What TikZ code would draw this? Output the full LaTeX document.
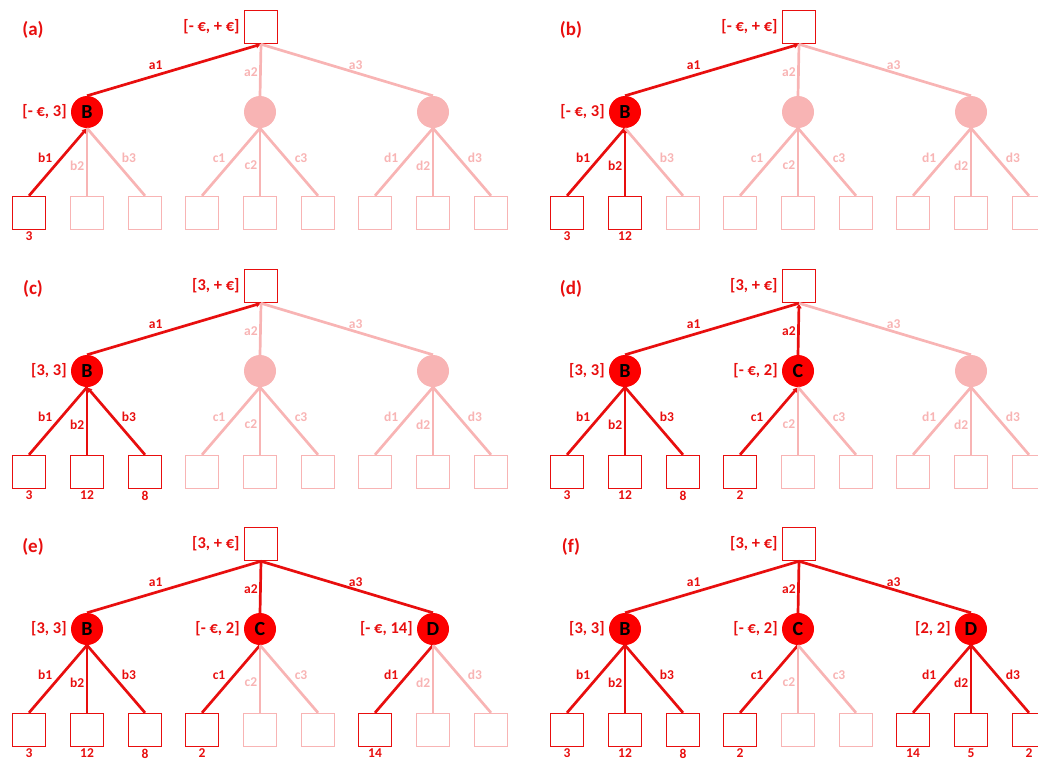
\documentclass[tikz,border=0pt]{standalone}
\usepackage{fontspec}
\setmainfont{Carlito}
\usetikzlibrary{positioning,arrows.meta}
\definecolor{hot}{RGB}{232,14,14}
\definecolor{blood}{RGB}{252,0,0}
\definecolor{pale}{RGB}{248,180,180}
\tikzset{
  sq/.style={draw=#1,fill=white,line width=1.5pt,minimum size=33pt,inner sep=0pt},
  ball/.style={circle,fill=#1,minimum size=32pt,inner sep=0pt,font=\bfseries\fontsize{20}{20}\selectfont},
  hotlink/.style={color=hot,line width=2.7pt},
  palelink/.style={color=pale,line width=2.7pt},
  tiplink/.style={hotlink,arrows={Latex[length=5pt,width=6pt]-}},
  elab/.style={font=\bfseries\fontsize{13.5}{14}\selectfont,inner sep=1.5pt},
  vlab/.style={font=\bfseries\fontsize{16.5}{17}\selectfont,text=hot,inner sep=1pt},
  paneltag/.style={font=\bfseries\fontsize{19}{19}\selectfont,text=hot}
}
\begin{document}
\begin{tikzpicture}[x=1pt,y=-1pt,font=\bfseries,label distance=3pt]
  \clip (0,0) rectangle (1038,763);

  % (a)
  \begin{scope}
    \node[paneltag] at (33,30) {(a)};
    \node[sq=hot] (aR) at (261,27) {};
    \node[vlab,left=3pt of aR] {[- €, + €]};
    \foreach \nm/\xx/\col/\ltr/\val in {B/87/blood/B/{[- €, 3]},C/260/pale//{},D/433/pale//{}}
      \node[ball=\col,label={[vlab]left:\val}] (a\nm) at (\xx,112) {\ltr};
    \foreach \xx/\col/\val [count=\k] in {29/hot/3,87/pale/,145/pale/,202/pale/,260/pale/,318/pale/,375/pale/,433/pale/,491/pale/}
      \node[sq=\col,label={[elab,text=hot,label distance=0pt]below:\val}] (a\k) at (\xx,213) {};
    \foreach \nm/\edge/\sty/\where in {B/a1/tiplink/{above left},C/a2/palelink/left,D/a3/palelink/above}
      \draw[\sty] (aR.south) -- node[elab,\where,pos=0.55] {\edge} (a\nm.north);
    \foreach \nm/\k/\edge/\sty/\where in {B/1/b1/tiplink/{above left},B/2/b2/palelink/left,B/3/b3/palelink/{above right},
        C/4/c1/palelink/{above left},C/5/c2/palelink/left,C/6/c3/palelink/{above right},
        D/7/d1/palelink/{above left},D/8/d2/palelink/left,D/9/d3/palelink/{above right}}
      \draw[\sty] (a\nm.south) -- node[elab,\where,pos=0.55] {\edge} (a\k.north);
  \end{scope}

  % (b)
  \begin{scope}[shift={(538,0)}]
    \node[paneltag] at (33,30) {(b)};
    \node[sq=hot] (bR) at (261,27) {};
    \node[vlab,left=3pt of bR] {[- €, + €]};
    \foreach \nm/\xx/\col/\ltr/\val in {B/87/blood/B/{[- €, 3]},C/260/pale//{},D/433/pale//{}}
      \node[ball=\col,label={[vlab]left:\val}] (b\nm) at (\xx,112) {\ltr};
    \foreach \xx/\col/\val [count=\k] in {29/hot/3,87/hot/12,145/pale/,202/pale/,260/pale/,318/pale/,375/pale/,433/pale/,491/pale/}
      \node[sq=\col,label={[elab,text=hot,label distance=0pt]below:\val}] (b\k) at (\xx,213) {};
    \foreach \nm/\edge/\sty/\where in {B/a1/tiplink/{above left},C/a2/palelink/left,D/a3/palelink/above}
      \draw[\sty] (bR.south) -- node[elab,\where,pos=0.55] {\edge} (b\nm.north);
    \foreach \nm/\k/\edge/\sty/\where in {B/1/b1/hotlink/{above left},B/2/b2/tiplink/left,B/3/b3/palelink/{above right},
        C/4/c1/palelink/{above left},C/5/c2/palelink/left,C/6/c3/palelink/{above right},
        D/7/d1/palelink/{above left},D/8/d2/palelink/left,D/9/d3/palelink/{above right}}
      \draw[\sty] (b\nm.south) -- node[elab,\where,pos=0.55] {\edge} (b\k.north);
  \end{scope}

  % (c)
  \begin{scope}[shift={(0,259)}]
    \node[paneltag] at (33,30) {(c)};
    \node[sq=hot] (cR) at (261,27) {};
    \node[vlab,left=3pt of cR] {[3, + €]};
    \foreach \nm/\xx/\col/\ltr/\val in {B/87/blood/B/{[3, 3]},C/260/pale//{},D/433/pale//{}}
      \node[ball=\col,label={[vlab]left:\val}] (c\nm) at (\xx,112) {\ltr};
    \foreach \xx/\col/\val [count=\k] in {29/hot/3,87/hot/12,145/hot/8,202/pale/,260/pale/,318/pale/,375/pale/,433/pale/,491/pale/}
      \node[sq=\col,label={[elab,text=hot,label distance=0pt]below:\val}] (c\k) at (\xx,213) {};
    \foreach \nm/\edge/\sty/\where in {B/a1/tiplink/{above left},C/a2/palelink/left,D/a3/palelink/above}
      \draw[\sty] (cR.south) -- node[elab,\where,pos=0.55] {\edge} (c\nm.north);
    \foreach \nm/\k/\edge/\sty/\where in {B/1/b1/hotlink/{above left},B/2/b2/hotlink/left,B/3/b3/tiplink/{above right},
        C/4/c1/palelink/{above left},C/5/c2/palelink/left,C/6/c3/palelink/{above right},
        D/7/d1/palelink/{above left},D/8/d2/palelink/left,D/9/d3/palelink/{above right}}
      \draw[\sty] (c\nm.south) -- node[elab,\where,pos=0.55] {\edge} (c\k.north);
  \end{scope}

  % (d)
  \begin{scope}[shift={(538,259)}]
    \node[paneltag] at (33,30) {(d)};
    \node[sq=hot] (dR) at (261,27) {};
    \node[vlab,left=3pt of dR] {[3, + €]};
    \foreach \nm/\xx/\col/\ltr/\val in {B/87/blood/B/{[3, 3]},C/260/blood/C/{[- €, 2]},D/433/pale//{}}
      \node[ball=\col,label={[vlab]left:\val}] (d\nm) at (\xx,112) {\ltr};
    \foreach \xx/\col/\val [count=\k] in {29/hot/3,87/hot/12,145/hot/8,202/hot/2,260/pale/,318/pale/,375/pale/,433/pale/,491/pale/}
      \node[sq=\col,label={[elab,text=hot,label distance=0pt]below:\val}] (d\k) at (\xx,213) {};
    \foreach \nm/\edge/\sty/\where in {B/a1/hotlink/{above left},C/a2/tiplink/left,D/a3/palelink/above}
      \draw[\sty] (dR.south) -- node[elab,\where,pos=0.55] {\edge} (d\nm.north);
    \foreach \nm/\k/\edge/\sty/\where in {B/1/b1/hotlink/{above left},B/2/b2/hotlink/left,B/3/b3/hotlink/{above right},
        C/4/c1/tiplink/{above left},C/5/c2/palelink/left,C/6/c3/palelink/{above right},
        D/7/d1/palelink/{above left},D/8/d2/palelink/left,D/9/d3/palelink/{above right}}
      \draw[\sty] (d\nm.south) -- node[elab,\where,pos=0.55] {\edge} (d\k.north);
  \end{scope}

  % (e)
  \begin{scope}[shift={(0,517)}]
    \node[paneltag] at (33,30) {(e)};
    \node[sq=hot] (eR) at (261,27) {};
    \node[vlab,left=3pt of eR] {[3, + €]};
    \foreach \nm/\xx/\col/\ltr/\val in {B/87/blood/B/{[3, 3]},C/260/blood/C/{[- €, 2]},D/433/blood/D/{[- €, 14]}}
      \node[ball=\col,label={[vlab]left:\val}] (e\nm) at (\xx,112) {\ltr};
    \foreach \xx/\col/\val [count=\k] in {29/hot/3,87/hot/12,145/hot/8,202/hot/2,260/pale/,318/pale/,375/hot/14,433/pale/,491/pale/}
      \node[sq=\col,label={[elab,text=hot,label distance=0pt]below:\val}] (e\k) at (\xx,213) {};
    \foreach \nm/\edge/\sty/\where in {B/a1/hotlink/{above left},C/a2/hotlink/left,D/a3/hotlink/above}
      \draw[\sty] (eR.south) -- node[elab,\where,pos=0.55] {\edge} (e\nm.north);
    \foreach \nm/\k/\edge/\sty/\where in {B/1/b1/hotlink/{above left},B/2/b2/hotlink/left,B/3/b3/hotlink/{above right},
        C/4/c1/hotlink/{above left},C/5/c2/palelink/left,C/6/c3/palelink/{above right},
        D/7/d1/hotlink/{above left},D/8/d2/palelink/left,D/9/d3/palelink/{above right}}
      \draw[\sty] (e\nm.south) -- node[elab,\where,pos=0.55] {\edge} (e\k.north);
  \end{scope}

  % (f)
  \begin{scope}[shift={(538,517)}]
    \node[paneltag] at (33,30) {(f)};
    \node[sq=hot] (fR) at (261,27) {};
    \node[vlab,left=3pt of fR] {[3, + €]};
    \foreach \nm/\xx/\col/\ltr/\val in {B/87/blood/B/{[3, 3]},C/260/blood/C/{[- €, 2]},D/433/blood/D/{[2, 2]}}
      \node[ball=\col,label={[vlab]left:\val}] (f\nm) at (\xx,112) {\ltr};
    \foreach \xx/\col/\val [count=\k] in {29/hot/3,87/hot/12,145/hot/8,202/hot/2,260/pale/,318/pale/,375/hot/14,433/hot/5,491/hot/2}
      \node[sq=\col,label={[elab,text=hot,label distance=0pt]below:\val}] (f\k) at (\xx,213) {};
    \foreach \nm/\edge/\sty/\where in {B/a1/hotlink/{above left},C/a2/hotlink/left,D/a3/hotlink/above}
      \draw[\sty] (fR.south) -- node[elab,\where,pos=0.55] {\edge} (f\nm.north);
    \foreach \nm/\k/\edge/\sty/\where in {B/1/b1/hotlink/{above left},B/2/b2/hotlink/left,B/3/b3/hotlink/{above right},
        C/4/c1/hotlink/{above left},C/5/c2/palelink/left,C/6/c3/palelink/{above right},
        D/7/d1/hotlink/{above left},D/8/d2/hotlink/left,D/9/d3/hotlink/{above right}}
      \draw[\sty] (f\nm.south) -- node[elab,\where,pos=0.55] {\edge} (f\k.north);
  \end{scope}
\end{tikzpicture}
\end{document}
